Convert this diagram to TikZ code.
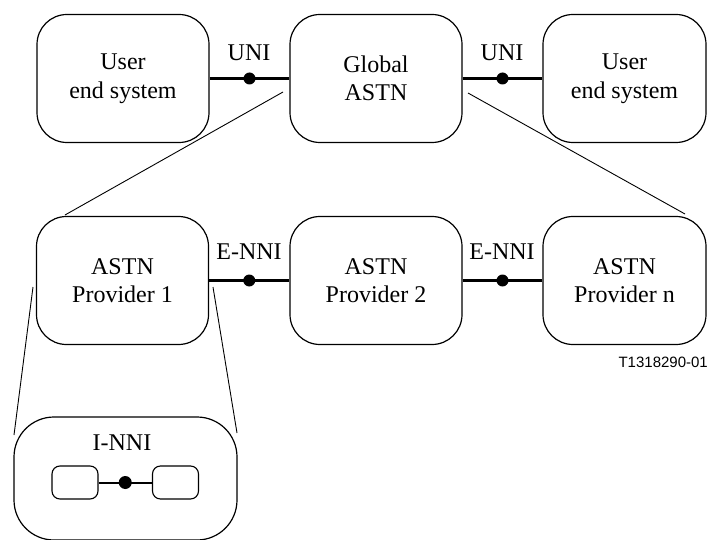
\documentclass[tikz,border=0pt]{standalone}
\usepackage{fontspec}
\setmainfont{Liberation Serif}
\newfontfamily\tagsans{Liberation Sans}
\begin{document}
\begin{tikzpicture}[x=1pt,y=-1pt,
  box/.style={draw, line width=1.2pt, rounded corners=30pt, align=center,
    inner sep=0pt, font=\fontsize{24}{28.5}\selectfont},
  bigbox/.style={box, minimum width=172pt, minimum height=128pt},
  minibox/.style={draw, line width=1.1pt, rounded corners=8pt,
    minimum width=46pt, minimum height=33pt, inner sep=0pt},
  iface/.style={line width=3pt},
  dot/.style={circle, fill=black, inner sep=0pt, minimum size=12pt},
  lbl/.style={font=\fontsize{24}{28}\selectfont, inner sep=0pt},
  zoomline/.style={line width=0.9pt}
]
\useasboundingbox (0,0) rectangle (707,540);

% top row
\node[bigbox] (u1) at (123,78.5) {User\\end system};
\node[bigbox] (g) at (376,78.5) {Global\\ASTN};
\node[bigbox, minimum width=163pt] (u2) at (624.5,78.5) {User\\end system};

% provider row
\node[bigbox] (p1) at (122.5,280.5) {ASTN\\Provider 1};
\node[bigbox] (p2) at (376,280.5) {ASTN\\Provider 2};
\node[bigbox, minimum width=163pt] (pn) at (624.5,280.5) {ASTN\\Provider n};

% interfaces between boxes
\draw[iface] (u1.east) -- (g.west) node[midway, dot] (d1) {};
\draw[iface] (g.east) -- (u2.west) node[midway, dot] (d2) {};
\draw[iface] (p1.east) -- (p2.west) node[midway, dot] (d3) {};
\draw[iface] (p2.east) -- (pn.west) node[midway, dot] (d4) {};
\node[lbl] (l1) at (249,53) {UNI};
\node[lbl] (l2) at (502,53) {UNI};
\node[lbl] (l3) at (249,252) {E-NNI};
\node[lbl] (l4) at (502,252) {E-NNI};

% expansion of Global ASTN into providers
\coordinate (ga) at (283,92);
\coordinate (gb) at (468,93);
\coordinate (pa) at (65,215);
\coordinate (pb) at (685,214);
\draw[zoomline] (ga) -- (pa);
\draw[zoomline] (gb) -- (pb);

\node[font=\tagsans\fontsize{15}{18}\selectfont, anchor=east, inner sep=0pt] (tag) at (708,362) {T1318290-01};

% detail of provider 1
\node[box, rounded corners=40pt, minimum width=223pt, minimum height=123pt] (inside) at (125.5,478.5) {};
\coordinate (qa) at (33,287);
\coordinate (qb) at (213,287);
\coordinate (ra) at (14,435);
\coordinate (rb) at (237,433);
\draw[zoomline] (qa) -- (ra);
\draw[zoomline] (qb) -- (rb);
\node[lbl] (l5) at (122,443) {I-NNI};
\node[minibox] (m1) at (75,482.5) {};
\node[minibox] (m2) at (175.5,482.5) {};
\draw[line width=2pt] (m1.east) -- (m2.west) node[midway, dot, minimum size=13pt] (d5) {};
\end{tikzpicture}
\end{document}
